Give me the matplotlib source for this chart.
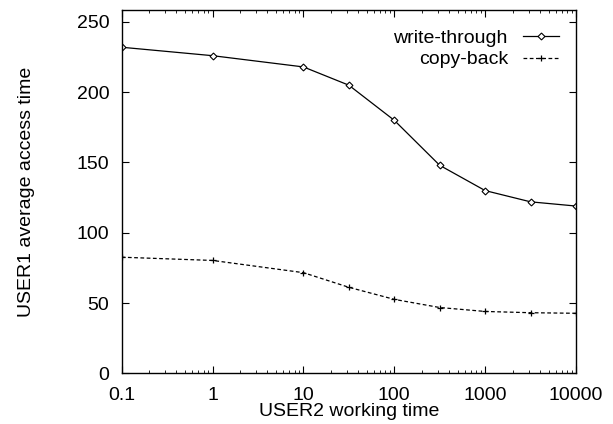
import matplotlib
matplotlib.use("Agg")
import matplotlib.pyplot as plt
from matplotlib.ticker import LogLocator, FixedLocator, NullFormatter, FixedFormatter

plt.rcParams['font.family'] = ['Liberation Sans', 'DejaVu Sans']

x_vals = [0.1, 1, 10, 31.6, 100, 316, 1000, 3162, 10000]
write_through = [232, 226, 218, 205, 180, 148, 130, 122, 119]
copy_back = [82.6, 80.3, 71.6, 61.2, 52.6, 46.8, 44.0, 43.1, 42.7]
x_ticks = [0.1, 1, 10, 100, 1000, 10000]
x_tick_labels = ["0.1", "1", "10", "100", "1000", "10000"]
y_ticks = [0, 50, 100, 150, 200, 250]

FS = 14

fig = plt.figure(figsize=(6.13, 4.24), dpi=100)
ax = fig.add_axes([0.1985, 0.1196, 0.7412, 0.8568])

ax.plot(x_vals, write_through, color='black', lw=0.9, marker='D', markersize=3.5,
        markerfacecolor='white', markeredgecolor='black', markeredgewidth=0.8,
        label='write-through')
ax.plot(x_vals, copy_back, color='black', lw=0.9, linestyle=(0, (3, 2)), marker='+',
        markersize=5, markeredgewidth=0.9, label='copy-back')

ax.set_xscale('log')
ax.set_xlim(0.1, 10000)
ax.set_ylim(0, 258.5)
ax.xaxis.set_major_locator(FixedLocator(x_ticks))
ax.xaxis.set_major_formatter(FixedFormatter(x_tick_labels))
ax.xaxis.set_minor_locator(LogLocator(base=10, subs=range(2, 10), numticks=20))
ax.xaxis.set_minor_formatter(NullFormatter())
ax.set_yticks(y_ticks)

ax.tick_params(which='major', direction='in', length=5, width=0.8, top=True, right=True,
               labelsize=FS)
ax.tick_params(axis='x', which='major', pad=10)
ax.tick_params(axis='y', which='major', pad=9)
ax.tick_params(which='minor', direction='in', length=2.5, width=0.6, top=True, right=True)
for s in ax.spines.values():
    s.set_linewidth(1.0)

ax.set_xlabel('USER2 working time', fontsize=FS, labelpad=-1)
ax.set_ylabel('USER1 average access time', fontsize=FS)
ax.yaxis.set_label_coords(-0.191, 0.5)

leg = ax.legend(loc='upper right', frameon=False, markerfirst=False, fontsize=FS,
                handlelength=1.86, handletextpad=0.77, labelspacing=0.22,
                borderaxespad=0, borderpad=0, bbox_to_anchor=(0.9626, 0.948))
for t in leg.get_texts():
    t.set_ha('right')

fig.savefig('out.png', dpi=100)
